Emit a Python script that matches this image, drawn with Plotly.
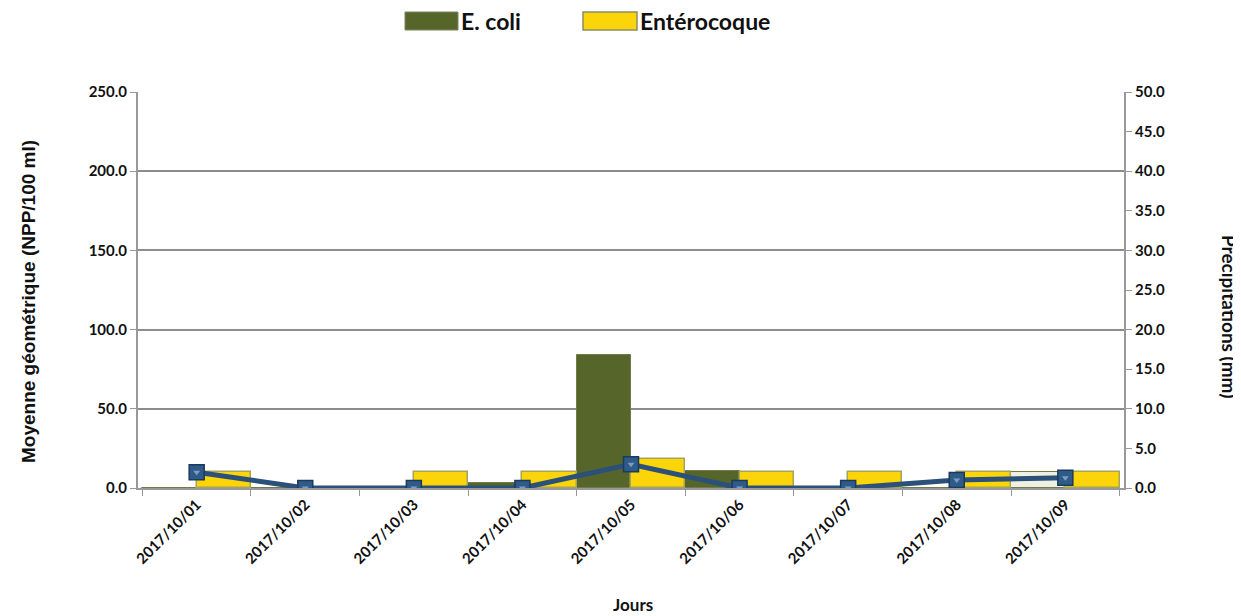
import plotly.graph_objects as go

jours = ["2017/10/01", "2017/10/02", "2017/10/03", "2017/10/04", "2017/10/05",
         "2017/10/06", "2017/10/07", "2017/10/08", "2017/10/09"]
ecoli = [0, 0, 0, 3, 84, 11, 0, 0, 10]
enterocoque = [10, 0, 10, 10, 18, 10, 10, 10, 10]
precipitations = [2.0, 0, 0, 0, 3.0, 0, 0, 1.0, 1.3]

ECOLI_COLOR = "#56662b"
ENTERO_COLOR = "#fbd40a"
ecoli_colors = [ECOLI_COLOR] * 8 + ["#eef0e2"]

# page offset (browser body margin) and plot area in page pixels
OFF = 8
L, R, T, B = 138, 1124, 92, 488
def px(x):
    return (x - L) / (R - L)
def py(y):
    return (B - y) / (B - T)

fig = go.Figure()
fig.add_trace(go.Bar(
    x=jours, y=ecoli, name="E. coli", showlegend=False,
    marker=dict(color=ecoli_colors, line=dict(color="#6e7a4a", width=1)),
))
fig.add_trace(go.Bar(
    x=jours, y=enterocoque, name="Entérocoque", showlegend=False,
    marker=dict(color=ENTERO_COLOR, line=dict(color="#a6a35a", width=1.5)),
))
fig.add_trace(go.Scatter(
    x=jours, y=precipitations, yaxis="y2", mode="lines+markers",
    showlegend=False,
    line=dict(color="#2b5079", width=5),
    marker=dict(symbol="square", size=15, color="#2f5b8a",
                line=dict(color="#1c3a5c", width=1.5)),
))
fig.add_trace(go.Scatter(
    x=jours, y=precipitations, yaxis="y2", mode="markers",
    showlegend=False, hoverinfo="skip",
    marker=dict(symbol="triangle-down", size=6, color="#7f9cc0"),
))

tickf = dict(family="Lato, Open Sans, sans-serif", size=15, color="#111", weight="bold")
legf = dict(family="Lato, Open Sans, sans-serif", size=23, color="#111", weight="bold")

shapes = [
    dict(type="rect", xref="paper", yref="paper", x0=px(405), x1=px(458), y0=py(30), y1=py(12),
         fillcolor=ECOLI_COLOR, line=dict(color="#7a8560", width=1)),
    dict(type="rect", xref="paper", yref="paper", x0=px(583), x1=px(637), y0=py(30), y1=py(12),
         fillcolor=ENTERO_COLOR, line=dict(color="#8d8d60", width=1.5)),
]
annotations = [
    dict(text="E. coli", xref="paper", yref="paper", x=px(459), y=py(21), xanchor="left",
         yanchor="middle", showarrow=False, font=legf),
    dict(text="Entérocoque", xref="paper", yref="paper", x=px(638), y=py(21), xanchor="left",
         yanchor="middle", showarrow=False, font=legf),
    dict(text="Précipitations (mm)", xref="paper", yref="paper",
         x=px(1230), y=py(316), xanchor="center", yanchor="middle",
         textangle=90, showarrow=False,
         font=dict(family="Lato, Open Sans, sans-serif", size=19, color="#111", weight="bold")),
    dict(text="Moyenne géométrique (NPP/100 ml)", xref="paper", yref="paper",
         x=px(28), y=py(302), xanchor="center", yanchor="middle",
         textangle=-90, showarrow=False,
         font=dict(family="Liberation Sans", size=19, color="#111", weight="bold")),
    dict(text="Jours", xref="paper", yref="paper", x=px(633), y=py(604),
         xanchor="center", yanchor="middle", showarrow=False,
         font=dict(family="Lato, Open Sans, sans-serif", size=17, color="#111", weight="bold")),
]

fig.update_layout(
    width=1241, height=616,
    margin=dict(l=L - OFF, r=1241 - R + OFF, t=T - OFF, b=616 - B + OFF, autoexpand=False),
    paper_bgcolor="white", plot_bgcolor="white",
    barmode="group", bargap=0, bargroupgap=0,
    showlegend=False,
    shapes=shapes, annotations=annotations,
    xaxis=dict(
        type="category", tickson="boundaries", ticks="outside", ticklen=6,
        tickcolor="#999", showline=True, linecolor="#999", linewidth=2,
        tickangle=-45, tickfont=tickf, showgrid=False, automargin=False,
    ),
    yaxis=dict(
        range=[0, 250], dtick=50, tickformat=".1f", showgrid=True,
        gridcolor="#8c8c8c", gridwidth=1.5, showline=True, linecolor="#999",
        linewidth=2, ticks="outside", ticklen=6, tickcolor="#999",
        tickfont=tickf, zeroline=False, automargin=False,
    ),
    yaxis2=dict(
        range=[0, 50], dtick=5, tickformat=".1f", overlaying="y", side="right",
        showgrid=False, showline=True, linecolor="#999", linewidth=2,
        ticks="outside", ticklen=6, tickcolor="#999", tickfont=tickf, zeroline=False,
        automargin=False,
    ),
)

fig.write_html("out.html")
